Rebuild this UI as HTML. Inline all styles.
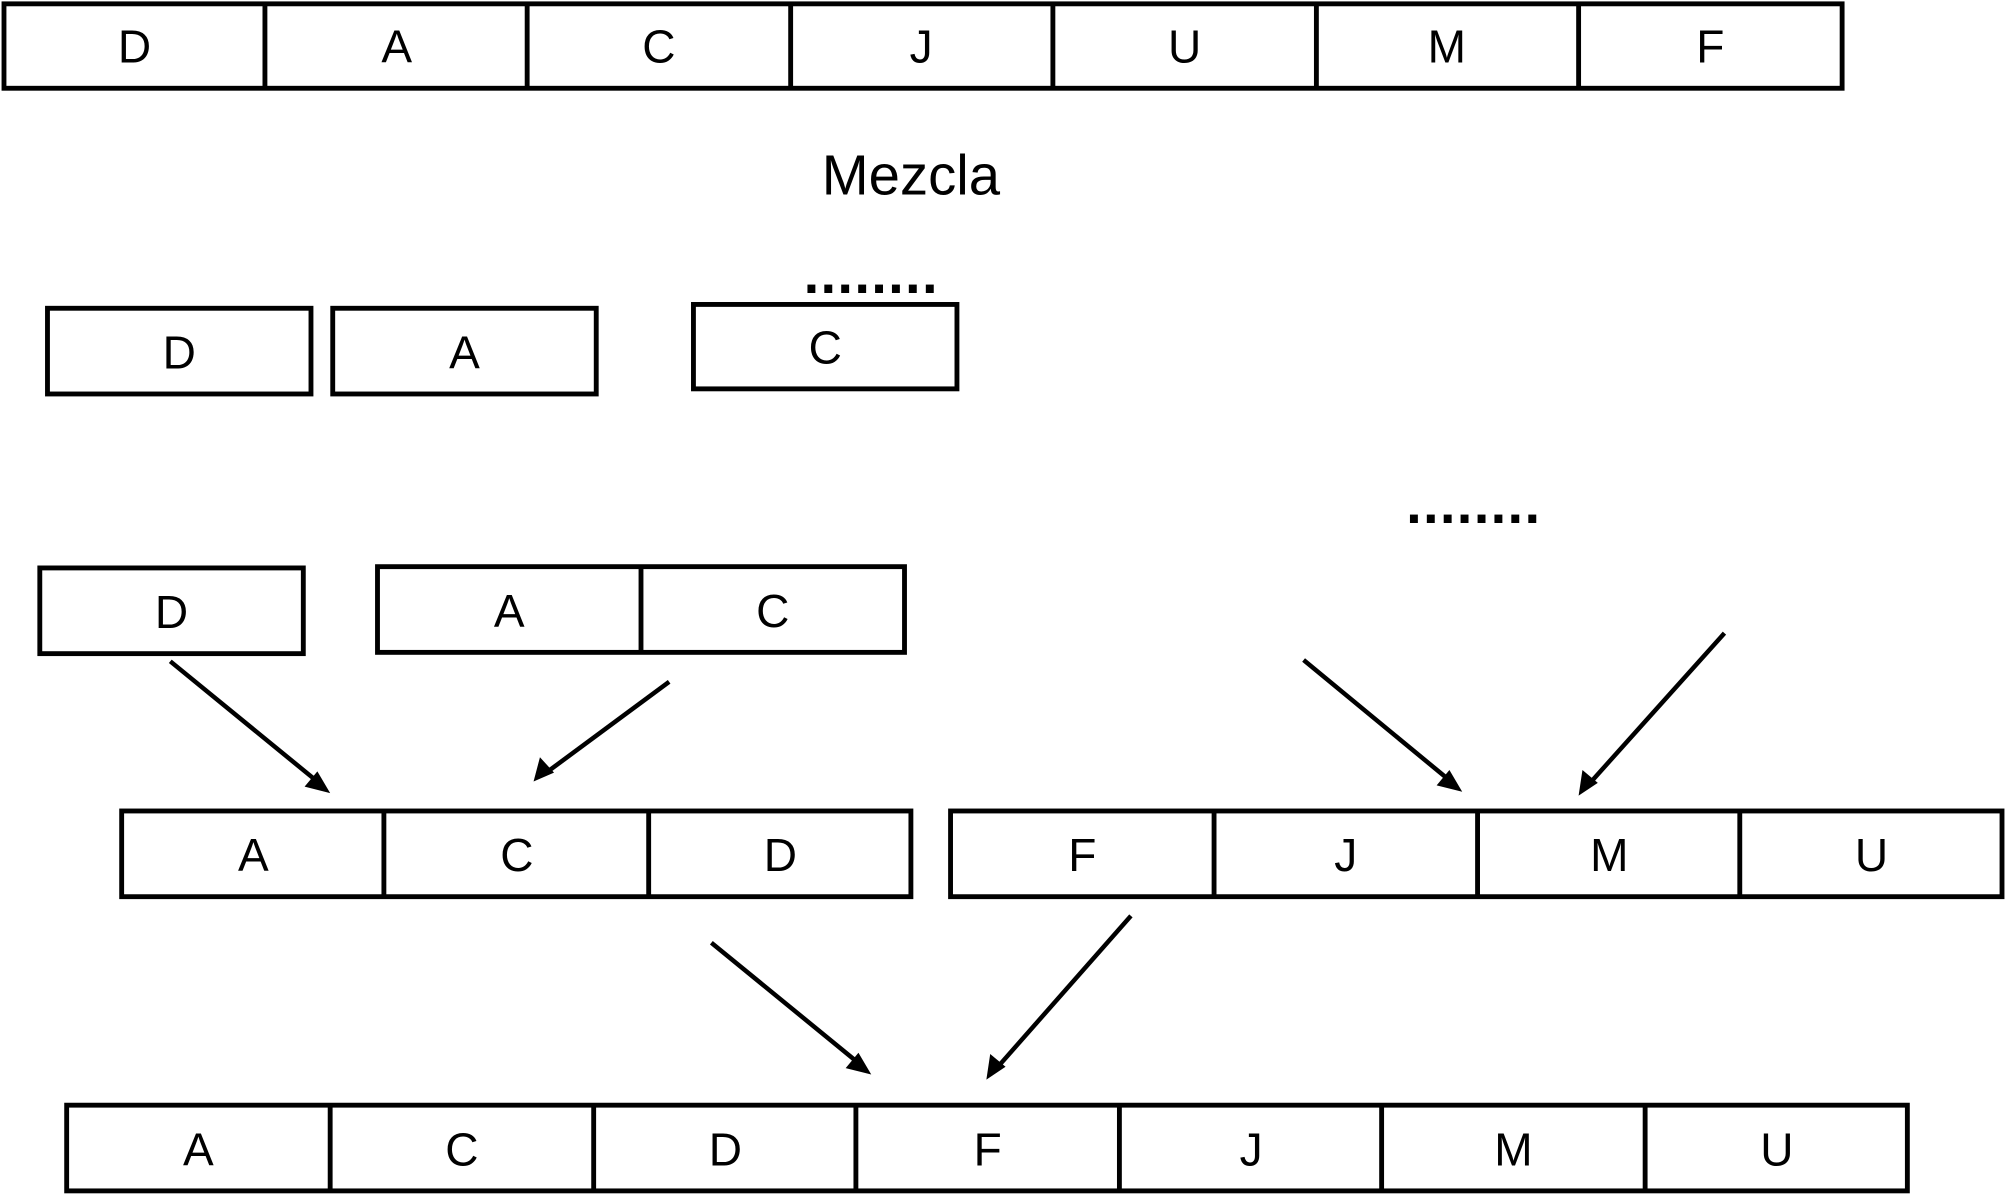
<!DOCTYPE html>
<html><head><meta charset="utf-8"><style>
html,body{margin:0;padding:0;background:#fff;}
svg{display:block;}
text{font-family:"Liberation Sans",sans-serif;font-size:36px;text-anchor:middle;fill:#000;}
.dots{font-size:44px;font-weight:bold;letter-spacing:1px;}
</style></head><body>
<svg width="2006" height="1196" viewBox="0 0 1568 935" xmlns="http://www.w3.org/2000/svg">
<g fill="none" stroke="#000" stroke-width="3.8">
<rect x="3" y="3" width="1437" height="66"/>
<path d="M207 3V69M412 3V69M618 3V69M823 3V69M1029 3V69M1234 3V69"/>
<rect x="37" y="241" width="206" height="67"/>
<rect x="260" y="241" width="206" height="67"/>
<rect x="542" y="238" width="206" height="66"/>
<rect x="31" y="444" width="206" height="67"/>
<rect x="295" y="443" width="412" height="67"/>
<path d="M501 443V510"/>
<rect x="95" y="634" width="617" height="67"/>
<path d="M300 634V701M507 634V701"/>
<rect x="743" y="634" width="822" height="67"/>
<path d="M949 634V701M1155 634V701M1360 634V701"/>
<rect x="52" y="864" width="1439" height="67"/>
<path d="M258 864V931M464 864V931M669 864V931M875 864V931M1080 864V931M1286 864V931"/>
</g>
<g stroke="#000" stroke-width="3.5">
<line x1="133" y1="517" x2="248" y2="611"/>
<line x1="523" y1="533" x2="427" y2="604"/>
<line x1="1019" y1="516" x2="1133" y2="610"/>
<line x1="1348" y1="495" x2="1243" y2="612"/>
<line x1="556" y1="737" x2="671" y2="831"/>
<line x1="884" y1="716" x2="780" y2="834"/>
</g>
<g fill="#000">
<polygon points="258,620 238,615 248,603"/>
<polygon points="417,611 422,592 433,604"/>
<polygon points="1143,619 1123,614 1133,602"/>
<polygon points="1234,622 1237,602 1249,612"/>
<polygon points="681,840 661,835 671,823"/>
<polygon points="771,844 774,824 786,834"/>
</g>
<g>
<text x="105" y="49">D</text><text x="310" y="49">A</text><text x="515" y="49">C</text><text x="720" y="49">J</text><text x="926" y="49">U</text><text x="1131" y="49">M</text><text x="1337" y="49">F</text>
<text x="712" y="152" style="font-size:44px">Mezcla</text>
<text x="140" y="288">D</text><text x="363" y="288">A</text><text x="645" y="284">C</text>
<text x="681" y="229" class="dots">........</text>
<text x="1152" y="409" class="dots">........</text>
<text x="134" y="491">D</text><text x="398" y="490">A</text><text x="604" y="490">C</text>
<text x="198" y="681">A</text><text x="404" y="681">C</text><text x="610" y="681">D</text>
<text x="846" y="681">F</text><text x="1052" y="681">J</text><text x="1258" y="681">M</text><text x="1463" y="681">U</text>
<text x="155" y="911">A</text><text x="361" y="911">C</text><text x="567" y="911">D</text><text x="772" y="911">F</text><text x="978" y="911">J</text><text x="1183" y="911">M</text><text x="1389" y="911">U</text>
</g>
</svg>
</body></html>
